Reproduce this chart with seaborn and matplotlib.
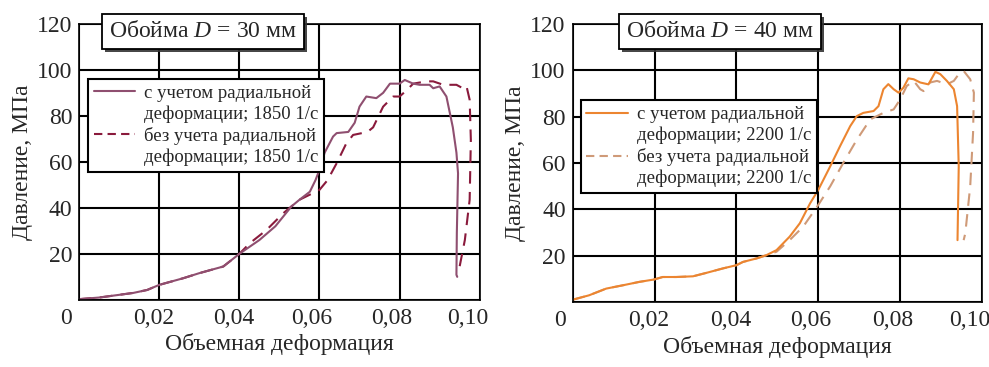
import matplotlib
matplotlib.use("Agg")
import matplotlib.pyplot as plt
import matplotlib.transforms as mtransforms
import matplotlib.patheffects as pe
from matplotlib.lines import Line2D
import pandas as pd
import seaborn as sns

sns.set_style("white")
plt.rcParams['font.family'] = ['Liberation Serif', 'DejaVu Serif']
plt.rcParams['mathtext.fontset'] = 'custom'
plt.rcParams['mathtext.it'] = 'Liberation Serif:italic'
plt.rcParams['mathtext.rm'] = 'Liberation Serif'

# D = 30 mm, 1850 1/s
x30_with = [0, 0.005, 0.0135, 0.017, 0.02, 0.026, 0.030, 0.036, 0.040, 0.045, 0.049, 0.053, 0.055,
            0.0576, 0.059, 0.060, 0.0613, 0.0634, 0.0643, 0.0672, 0.0688, 0.070, 0.0717, 0.0742,
            0.0759, 0.0776, 0.080, 0.0813, 0.0834, 0.085, 0.0875, 0.0884, 0.090, 0.0917, 0.0933,
            0.0942, 0.0946, 0.0943, 0.0942, 0.0944]
y30_with = [0.3, 1, 3, 4.3, 6.5, 9.4, 11.6, 14.5, 20, 26, 32, 40.6, 43.5,
            47, 52, 56.5, 64, 71, 72.5, 73, 77, 84, 88.4, 87.7,
            90, 94, 94, 95.6, 94, 93.5, 93.5, 92, 92.8, 88.4, 75,
            64, 55, 29, 10.9, 10]
x30_without = [0, 0.005, 0.0135, 0.017, 0.02, 0.026, 0.030, 0.036, 0.040, 0.0426, 0.0468, 0.051,
               0.055, 0.060, 0.062, 0.0643, 0.0667, 0.0684, 0.072, 0.0734, 0.0759, 0.0784, 0.080,
               0.0817, 0.0834, 0.0867, 0.0884, 0.0909, 0.0942, 0.0958, 0.0967, 0.0975, 0.0978,
               0.0975, 0.0963, 0.095, 0.0946]
y30_without = [0.3, 1, 3, 4.3, 6.5, 9.4, 11.6, 14.5, 20, 24.6, 30.4, 37.7,
               43.5, 47.8, 52, 59.4, 68, 71.7, 73, 75, 84, 88.4, 88.4,
               91, 94, 95, 95, 93.5, 93.5, 92, 93, 87, 69.6,
               43.5, 26, 14.5, 11.6]

# D = 40 mm, 2200 1/s
x40_with = [0, 0.004, 0.0082, 0.0122, 0.0163, 0.0198, 0.022, 0.0253, 0.0294, 0.0327, 0.0367, 0.040,
            0.0416, 0.0449, 0.0473, 0.0498, 0.053, 0.0555, 0.058, 0.060, 0.0629, 0.0653, 0.0678,
            0.0694, 0.071, 0.0735, 0.0747, 0.0759, 0.0771, 0.0784, 0.0796, 0.0808, 0.082, 0.0833,
            0.0849, 0.0869, 0.0886, 0.0898, 0.0914, 0.0931, 0.0939, 0.0943, 0.094]
y40_with = [1, 2.9, 5.8, 7.2, 8.7, 9.7, 10.8, 10.8, 11.1, 12.6, 14.5, 15.9,
            17.3, 18.8, 20.2, 22.4, 28.2, 34, 42.6, 48.4, 58.5, 67.2, 75.9,
            80.2, 81.6, 82.4, 84.5, 91.8, 94, 91.8, 90.3, 92.5, 96.5, 96.1,
            94.7, 93.9, 99.3, 98.3, 95.4, 91.8, 84.5, 58.5, 26.7]
x40_without = [0, 0.004, 0.0082, 0.0122, 0.0163, 0.0198, 0.022, 0.0253, 0.0294, 0.0327, 0.0367,
               0.040, 0.0416, 0.0449, 0.0473, 0.0498, 0.053, 0.0563, 0.060, 0.0629, 0.0661, 0.0694,
               0.0727, 0.0759, 0.0784, 0.080, 0.0816, 0.0833, 0.0849, 0.0857, 0.0873, 0.089,
               0.0914, 0.0931, 0.0943, 0.0955, 0.0971, 0.098, 0.0978, 0.0971, 0.0959, 0.0955]
y40_without = [1, 2.9, 5.8, 7.2, 8.7, 9.7, 10.8, 10.8, 11.1, 12.6, 14.5,
               15.9, 17.3, 18.8, 20.2, 21.7, 26.7, 32.5, 41.9, 49.9, 60, 70,
               78.8, 81.6, 83.1, 87.4, 93.2, 95.4, 91.8, 91, 94.7, 95.4,
               93.9, 95.4, 98.3, 99.7, 96.1, 90.3, 73, 49.9, 29.6, 26.7]

x_ticks = [0, 0.02, 0.04, 0.06, 0.08, 0.10]
x_ticklabels = ['0', '0,02', '0,04', '0,06', '0,08', '0,10']
y_ticks = [0, 20, 40, 60, 80, 100, 120]
y_ticklabels = ['', '20', '40', '60', '80', '100', '120']

panels = [
    dict(rect=[0.080, 0.183, 0.405, 0.752], title='Обойма $D$ = 30 мм', rate='1850',
         xw=x30_with, yw=y30_with, xo=x30_without, yo=y30_without,
         c_with='#8f4f70', c_without='#8a1a3c', title_x=0.31,
         leg_anchor=(0.022, 0.80)),
    dict(rect=[0.579, 0.177, 0.414, 0.758], title='Обойма $D$ = 40 мм', rate='2200',
         xw=x40_with, yw=y40_with, xo=x40_without, yo=y40_without,
         c_with='#ec8530', c_without='#cf9a78', title_x=0.36,
         leg_anchor=(0.02, 0.725)),
]

FS = 17

fig = plt.figure(figsize=(9.89, 3.67), dpi=100)

for p in panels:
    ax = fig.add_axes(p['rect'])
    dw = pd.DataFrame({'x': p['xw'], 'y': p['yw']})
    do = pd.DataFrame({'x': p['xo'], 'y': p['yo']})
    sns.lineplot(data=do, x='x', y='y', sort=False, estimator=None, ax=ax,
                 color=p['c_without'], lw=1.5, linestyle=(0, (6, 4)))
    sns.lineplot(data=dw, x='x', y='y', sort=False, estimator=None, ax=ax,
                 color=p['c_with'], lw=1.5)

    ax.set_xlim(0, 0.10)
    ax.set_ylim(0, 120)
    ax.set_xticks(x_ticks)
    ax.set_xticklabels(x_ticklabels)
    ax.set_yticks(y_ticks)
    ax.set_yticklabels(y_ticklabels)
    ax.tick_params(length=0, labelsize=FS, pad=6)
    ax.tick_params(axis='y', pad=5)
    # tick labels sit a little left of their grid lines
    shifts = [-0.13, -0.06, -0.06, -0.08, -0.08, -0.12]
    for lab, dx in zip(ax.get_xticklabels(), shifts):
        lab.set_transform(lab.get_transform() +
                          mtransforms.ScaledTranslation(dx, 0, fig.dpi_scale_trans))
    ax.grid(True, color='black', lw=1.5)
    for s in ax.spines.values():
        s.set_color('black')
        s.set_linewidth(1.2)
    ax.set_xlabel('Объемная деформация', fontsize=FS, labelpad=3)
    ax.set_ylabel('Давление, МПа', fontsize=FS, labelpad=3)

    # title box with a small drop shadow
    t = ax.text(p['title_x'], 0.973, p['title'], transform=ax.transAxes, ha='center',
                va='center', fontsize=FS, zorder=6,
                bbox=dict(boxstyle='square,pad=0.3', fc='white', ec='black', lw=1.3))
    t.get_bbox_patch().set_path_effects([
        pe.SimplePatchShadow(offset=(2, -2), shadow_rgbFace='#333333', alpha=0.9),
        pe.Normal()])

    handles = [Line2D([], [], color=p['c_with'], lw=1.5),
               Line2D([], [], color='none'),
               Line2D([], [], color=p['c_without'], lw=1.5, linestyle=(0, (4, 2.5))),
               Line2D([], [], color='none')]
    labels = ['с учетом радиальной', 'деформации; %s 1/с' % p['rate'],
              'без учета радиальной', 'деформации; %s 1/с' % p['rate']]
    leg = ax.legend(handles, labels, loc='upper left', bbox_to_anchor=p['leg_anchor'],
                    fontsize=13.5, frameon=True, fancybox=False, framealpha=1,
                    edgecolor='black', handlelength=2.2, handletextpad=0.5,
                    labelspacing=0.2, borderpad=0.3, borderaxespad=0)
    leg.get_frame().set_linewidth(1.5)
    leg.set_zorder(5)

fig.savefig('out.png', dpi=100)
